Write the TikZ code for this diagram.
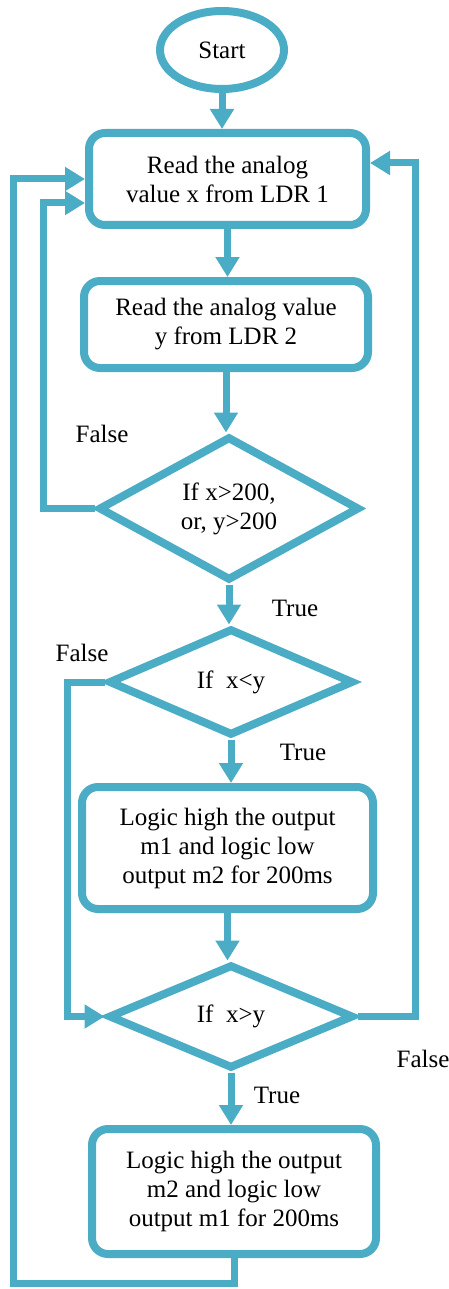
\documentclass[tikz,border=0pt]{standalone}
\usepackage{fontspec}
\setmainfont{Liberation Serif}
\newfontfamily\timesfont{Liberation Serif}
\usetikzlibrary{shapes.geometric,arrows.meta,calc}
\definecolor{aqua}{HTML}{4BACC6}
\begin{document}
\begin{tikzpicture}[x=0.5pt,y=-0.5pt,
  every node/.style={font=\timesfont\fontsize{12.5}{14.5}\selectfont, align=center},
  procbox/.style={draw=aqua, line width=4pt, rounded corners=8pt, inner sep=0pt},
  decision/.style={draw=aqua, line width=4pt, diamond, inner sep=0pt, aspect=2},
  terminal/.style={draw=aqua, line width=4pt, ellipse, inner sep=0pt},
  arr/.style={draw=aqua, line width=3.5pt, -{Triangle[width=11.5pt,length=10pt]}},
  lbl/.style={inner sep=0pt}
]
\useasboundingbox (0,0) rectangle (449,1289);

\node[terminal, minimum width=62pt, minimum height=39pt] (start) at (222,50) {Start};
\node[procbox, minimum width=138.5pt, minimum height=46pt] (b1) at (227.5,179) {Read the analog\\value x from LDR 1};
\node[procbox, minimum width=142pt, minimum height=43.5pt] (b2) at (226,324.5) {Read the analog value\\y from LDR 2};
\node[decision, minimum width=130.5pt, minimum height=72pt] (d1) at (229,508.5) {If x>200,\\or, y>200};
\node[decision, minimum width=122.5pt, minimum height=53.5pt] (d2) at (231,682) {If~ x<y};
\node[procbox, minimum width=145.5pt, minimum height=61pt] (b3) at (227.5,848) {Logic high the output\\m1 and logic low\\output m2 for 200ms};
\node[decision, minimum width=122.5pt, minimum height=52pt] (d3) at (231,1016.5) {If~ x>y};
\node[procbox, minimum width=142pt, minimum height=62.5pt] (b4) at (234,1191.5) {Logic high the output\\m2 and logic low\\output m1 for 200ms};

\node[lbl] (f1) at (102,434) {False};
\node[lbl] (t1) at (295,608) {True};
\node[lbl] (f2) at (82,653) {False};
\node[lbl] (t2) at (303,752) {True};
\node[lbl] (f3) at (423,1059) {False};
\node[lbl] (t3) at (277,1095) {True};

\draw[arr] (start.south) -- (start.south |- b1.north);
\draw[arr] (b1.south) -- (b1.south |- b2.north);
\draw[arr] (b2.south) -- (b2.south |- d1.north);
\draw[arr] (d1.south) -- (d1.south |- d2.north);
\draw[arr] (d2.south) -- (d2.south |- b3.north);
\draw[arr] (b3.south) -- (b3.south |- d3.north);
\draw[arr] (d3.south) -- (d3.south |- b4.north);

\draw[arr] (d1.west) -- (43,508.5) |- ($(b1.west)+(0,24)$);
\draw[arr] (b4.south) -- ($(b4.south)+(0,25)$) -| (13,179) -- (b1.west);
\draw[arr] (d2.west) -- (67,682) |- (d3.west);
\draw[arr] (d3.east) -- (415,1016.5) |- ($(b1.east)+(0,-16)$);
\end{tikzpicture}
\end{document}
